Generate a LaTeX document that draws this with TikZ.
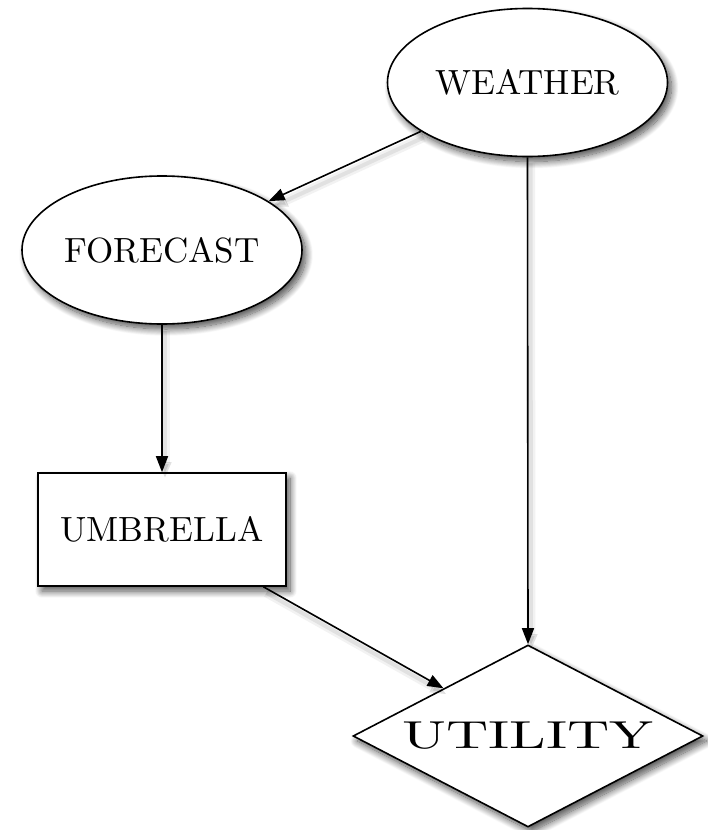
\documentclass[tikz,border=0pt]{standalone}
\usepackage{fontspec}
\usetikzlibrary{shapes.geometric,shadows.blur,arrows.meta}

% the 10pt design of Latin Modern, scaled up
\newfontfamily\labelfont{lmroman10-regular.otf}

\tikzset{
  base/.style={draw=black, line width=1.6pt, fill=white,
    font=\labelfont\fontsize{35}{42}\selectfont, inner sep=0pt,
    blur shadow={shadow xshift=4pt, shadow yshift=-5pt,
      shadow blur radius=7pt, shadow blur steps=14, shadow opacity=70}},
  chance/.style={base, ellipse, minimum width=280pt, minimum height=148pt},
  decision/.style={base, rectangle, minimum width=248pt, minimum height=113pt},
  utilnode/.style={base, diamond, aspect=1.92, minimum width=350pt, minimum height=182pt},
  edgeshade/.style={preaction={draw, line width=9pt, black, opacity=0.05,
      transform canvas={xshift=3pt, yshift=-6pt}},
    preaction={draw, line width=4pt, black, opacity=0.07,
      transform canvas={xshift=3pt, yshift=-6pt}}},
  link/.style={line width=1.6pt, edgeshade,
    -{Triangle[length=16pt, width=12pt]}}
}

\begin{document}
\begin{tikzpicture}[x=1pt, y=-1pt]
  \useasboundingbox (0,0) rectangle (708,830);

  % nodes of the decision network
  \node[chance]   (weather)  at (527.5, 82.5) {WEATHER};
  \node[chance]   (forecast) at (162, 250)    {FORECAST};
  \node[decision] (umbrella) at (162, 529.5)  {UMBRELLA};
  \node[utilnode] (utility)  at (528, 736)
    {\scalebox{1.5}[1]{\fontsize{39}{44}\selectfont UTILITY}};

  % influences
  \draw[link] (weather)  -- (forecast);
  \draw[link] (weather.south)  -- (utility.north);
  \draw[link] (forecast) -- (umbrella);
  \draw[link] (umbrella) -- (utility);
\end{tikzpicture}
\end{document}
